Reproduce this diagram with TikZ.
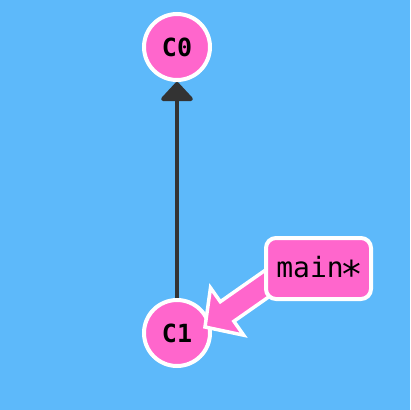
\documentclass[tikz,border=0pt]{standalone}
\usepackage{fontspec}
\newfontfamily\monofont{DejaVu Sans Mono}
\usetikzlibrary{arrows.meta}
\definecolor{bg}{RGB}{93,185,250}
\definecolor{pinkc}{RGB}{255,102,204}
\definecolor{darkc}{RGB}{51,51,51}
\newcommand{\bigast}{\makebox[16.86pt]{\raisebox{-2.8pt}{\scalebox{1.35}{∗}}}}
\begin{document}
\begin{tikzpicture}[x=1pt,y=-1pt,
  commit/.style={circle, fill=pinkc, draw=white, line width=4pt, minimum size=66pt, inner sep=0pt,
    font=\monofont\bfseries\fontsize{25}{25}\selectfont},
  edge/.style={draw=darkc, line width=4pt, -{Triangle[width=36pt,length=20pt,round]}},
  pointer/.style={fill=pinkc, draw=white, line width=3.5pt, line join=miter},
  branch/.style={rectangle, rounded corners=10pt, fill=pinkc, draw=white, line width=4pt,
    minimum width=105pt, minimum height=61pt, inner sep=0pt,
    font=\monofont\fontsize{28}{28}\selectfont}]
\useasboundingbox (0,0) rectangle (410,410);
\fill[bg] (0,0) rectangle (410,410);
\node[commit] (C0) at (177,47) {C0};
\node[commit] (C1) at (177,333) {C1};
\draw[edge] (C1) -- (C0);
\coordinate (tip) at (205,327);
\draw[pointer] (tip) -- (210.5,287.8) -- (220.3,301.7) -- (280.1,259.8) -- (293.7,279.4)
  -- (233.9,321.3) -- (243.7,335.2) -- cycle;
\node[branch] (main) at (318.5,268.5) {main\bigast};
\end{tikzpicture}
\end{document}
